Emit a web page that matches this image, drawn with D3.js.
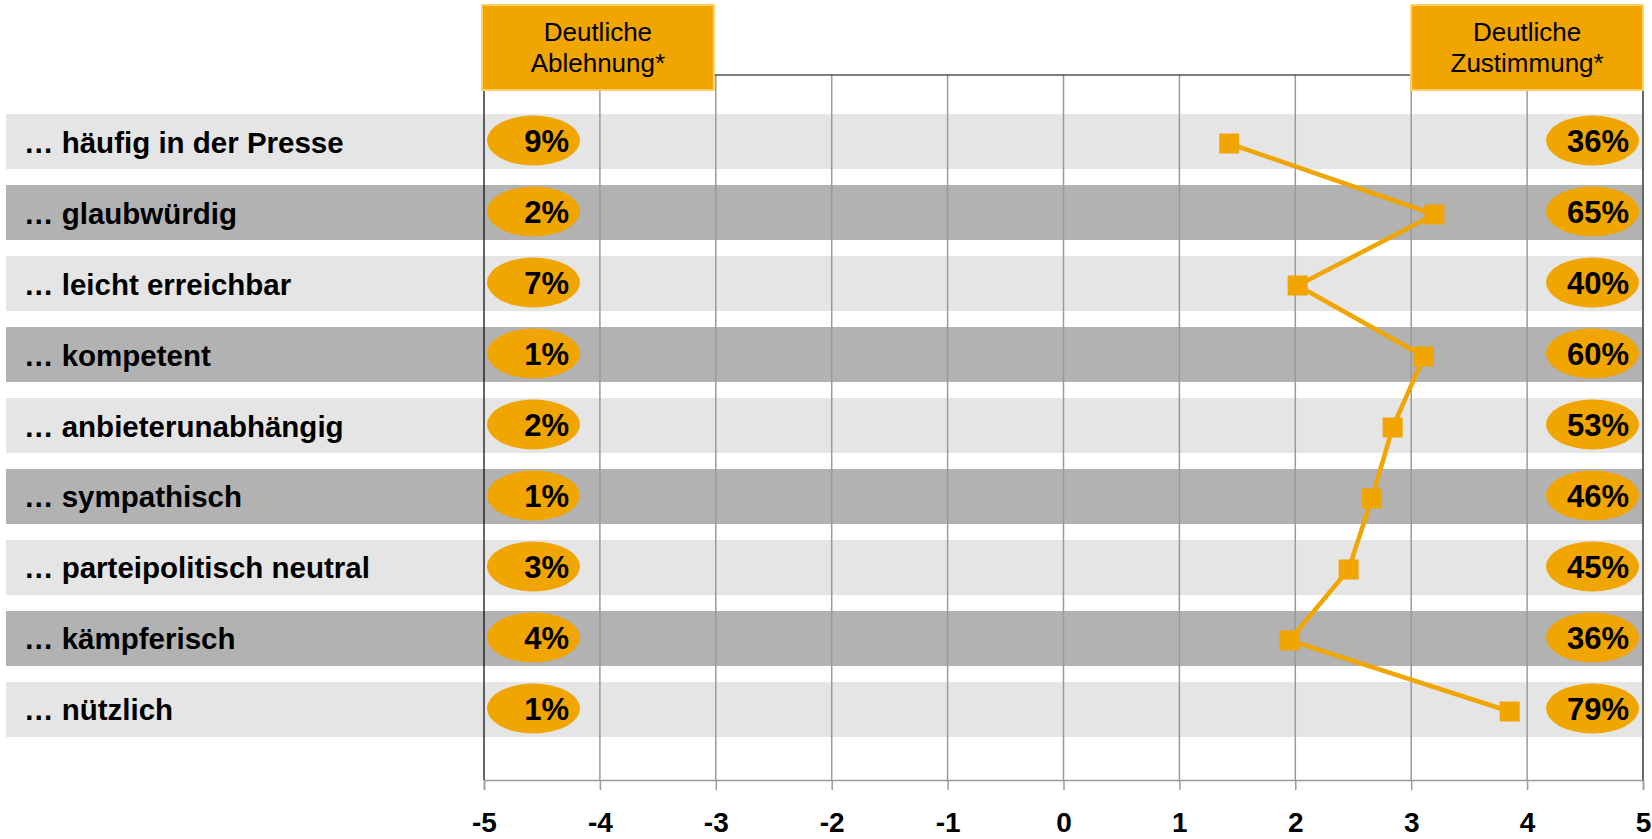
<!DOCTYPE html>
<html><head><meta charset="utf-8">
<script src="https://cdn.jsdelivr.net/npm/d3@7/dist/d3.min.js"></script>
<style>body{margin:0;background:#fff}svg{display:block}text{font-family:"Liberation Sans",Arial,sans-serif}</style>
</head><body><svg id="c" width="1652" height="839"></svg>
<script>
const categories = ["… häufig in der Presse","… glaubwürdig","… leicht erreichbar","… kompetent","… anbieterunabhängig","… sympathisch","… parteipolitisch neutral","… kämpferisch","… nützlich"];
const meanValues = [1.43,3.20,2.02,3.11,2.84,2.66,2.46,1.95,3.85];
const rejectPct = [9,2,7,1,2,1,3,4,1];
const agreePct = [36,65,40,60,53,46,45,36,79];
const tickValues = [-5,-4,-3,-2,-1,0,1,2,3,4,5];
const headerLeft = ["Deutliche","Ablehnung*"];
const headerRight = ["Deutliche","Zustimmung*"];

(function(){
const ORANGE = "#F0A500";
const svg = d3.select("#c");
const x = d3.scaleLinear().domain([-5,5]).range([484,1643]);
const y = d3.scaleBand().domain(categories).range([106,745]).paddingInner(0.225).paddingOuter(0.1127);
const plotTop = 75, plotBottom = 780;

svg.append("g").selectAll("rect").data(categories).join("rect")
  .attr("x",6).attr("width",1642-6)
  .attr("y",d=>y(d)).attr("height",y.bandwidth())
  .attr("fill",(d,i)=>i%2===0?"#E5E5E5":"#B2B2B2");

svg.append("g").selectAll("line").data(tickValues.filter(v=>v>-5&&v<5)).join("line")
  .attr("x1",d=>x(d)).attr("x2",d=>x(d)).attr("y1",plotTop).attr("y2",plotBottom)
  .attr("stroke","#9A9A9A").attr("stroke-width",1.5);

const axis = d3.axisBottom(x).tickValues(tickValues).tickSize(10).tickPadding(22).tickFormat(d=>String(d));
const ag = svg.append("g").attr("transform",`translate(0,${plotBottom})`).call(axis);
ag.select(".domain").attr("stroke","#9A9A9A").attr("stroke-width",1.5);
ag.selectAll(".tick line").attr("stroke","#9A9A9A").attr("stroke-width",1.5);
ag.selectAll(".tick text").attr("font-size",28).attr("font-weight","bold").attr("fill","#000")
  .attr("font-family","Liberation Sans, Arial, sans-serif");

svg.append("line").attr("x1",x(-5)).attr("x2",x(-5)).attr("y1",plotTop).attr("y2",plotBottom).attr("stroke","#000").attr("stroke-width",1.2);
svg.append("line").attr("x1",x(5)).attr("x2",x(5)).attr("y1",plotTop).attr("y2",plotBottom).attr("stroke","#000").attr("stroke-width",1.2);
svg.append("line").attr("x1",x(-5)).attr("x2",x(5)).attr("y1",plotTop).attr("y2",plotTop).attr("stroke","#000").attr("stroke-width",1.2);

svg.append("g").selectAll("text").data(categories).join("text")
  .attr("x",24).attr("y",d=>y(d)+y.bandwidth()/2+11)
  .attr("font-size",29.5).attr("font-weight","bold").attr("fill","#000").text(d=>d);

function ellipses(vals, cxv, tx){
  const g = svg.append("g");
  g.selectAll("ellipse").data(vals).join("ellipse")
    .attr("cx",cxv).attr("cy",(d,i)=>y(categories[i])+y.bandwidth()/2-1)
    .attr("rx",46.5).attr("ry",25).attr("fill",ORANGE);
  g.selectAll("text").data(vals).join("text")
    .attr("x",tx).attr("y",(d,i)=>y(categories[i])+y.bandwidth()/2+10.5)
    .attr("text-anchor","end").attr("font-size",31).attr("font-weight","bold").attr("fill","#000")
    .text(d=>d+"%");
}
ellipses(rejectPct, 533.5, 569);
ellipses(agreePct, 1592.5, 1629);

const pts = meanValues.map((v,i)=>[x(v), y(categories[i])+y.bandwidth()/2+2]);
svg.append("path").attr("d",d3.line()(pts)).attr("fill","none").attr("stroke",ORANGE).attr("stroke-width",4.5);
svg.append("g").selectAll("rect").data(pts).join("rect")
  .attr("x",d=>d[0]-10).attr("y",d=>d[1]-10).attr("width",20).attr("height",20).attr("fill",ORANGE);

function header(lines, x0, x1){
  const g = svg.append("g");
  g.append("rect").attr("x",x0).attr("y",5).attr("width",x1-x0).attr("height",85)
    .attr("fill",ORANGE).attr("stroke","#FFCF66").attr("stroke-width",2);
  g.selectAll("text").data(lines).join("text")
    .attr("x",(x0+x1)/2).attr("y",(d,i)=>41+i*31).attr("text-anchor","middle")
    .attr("font-size",26).attr("fill","#000").text(d=>d);
}
header(headerLeft, x(-5)-2, x(-3)-2);
header(headerRight, x(3), x(5));
})();
</script></body></html>
